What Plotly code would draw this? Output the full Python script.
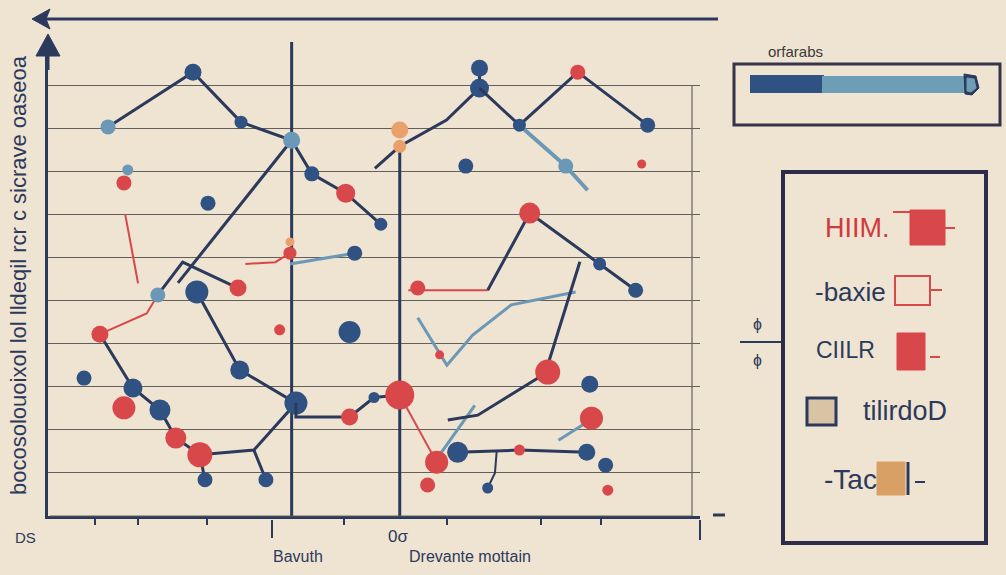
import plotly.graph_objects as go

W, H = 1006, 575
L, R, T, B = 48, 306, 42, 59
BG = '#efe3d1'
NAVY = '#2b3a5c'
BLUE = '#2f5282'
RED = '#d8474a'
STEEL = '#6c98b7'
ORANGE = '#eba06b'
GRID = '#625f5a'
COL = {'n': BLUE, 'r': RED, 's': STEEL, 'o': ORANGE, '-': BLUE}

# ---------------- data ----------------
x_range = [0, 15.2]
y_range = [0, 11]
grid_vals = [1, 2, 3, 4, 5, 6, 7, 8, 9, 10]
tick_vals = [1.1, 2.1, 3.7, 6.9, 9.3, 11.5, 12.9]
ref_x = [5.68, 8.20]
ref_top = [11.1, 8.55]

upper_x = [1.40, 3.38, 4.50, 5.68, 6.15, 6.94, 7.76]
upper_y = [9.03, 10.30, 9.14, 8.72, 7.94, 7.49, 6.77]
upper_c = ['s', 'n', 'n', 's', 'n', 'r', 'n']
upper_s = [15, 17, 13, 17, 15, 19, 13]

diag_x = [5.68, 3.03]
diag_y = [8.72, 5.41]

peak_x = [2.56, 3.14, 4.43]
peak_y = [5.13, 5.89, 5.29]
peak_c = ['s', '-', 'r']
peak_s = [15, 0, 17]

chain_x = [1.21, 1.98, 2.61, 2.98, 3.54, 4.80, 5.78, 4.47, 3.47]
chain_y = [4.22, 2.97, 2.46, 1.81, 1.42, 1.53, 2.62, 3.39, 5.20]
chain_c = ['r', 'n', 'n', 'r', 'r', '-', 'n', 'n', 'n']
chain_s = [17, 19, 21, 21, 25, 0, 23, 19, 23]

branch1_x = [4.80, 5.08]
branch1_y = [1.53, 0.84]
branch2_x = [3.54, 3.66]
branch2_y = [1.42, 0.84]

mid_x = [5.78, 5.78, 7.03, 7.60, 8.20]
mid_y = [2.62, 2.30, 2.30, 2.75, 2.81]
mid_c = ['-', '-', 'r', 'n', 'r']
mid_s = [0, 0, 17, 11, 29]

right1_x = [7.62, 8.20, 9.29, 10.06, 10.06]
right1_y = [8.07, 8.58, 9.19, 9.93, 10.39]
right1_c = ['-', '-', '-', 'n', 'n']
right1_s = [0, 0, 0, 19, 17]

right2_x = [10.06, 10.99, 12.35, 13.98]
right2_y = [9.93, 9.07, 10.30, 9.07]
right2_c = ['-', 'n', 'r', 'n']
right2_s = [0, 13, 15, 15]

right3_x = [10.99, 12.07, 12.58]
right3_y = [9.07, 8.12, 7.56]

wave_x = [10.25, 11.23, 12.86, 13.70]
wave_y = [5.24, 7.03, 5.85, 5.24]
wave_c = ['-', 'r', 'n', 'n']
wave_s = [0, 21, 13, 15]

drop_x = [12.40, 11.65]
drop_y = [5.90, 3.50]

curve_x = [8.62, 9.30, 9.90, 10.80, 12.30]
curve_y = [4.60, 3.50, 4.20, 4.90, 5.20]

low1_x = [9.32, 10.02, 11.65]
low1_y = [2.23, 2.34, 3.34]
low1_c = ['-', '-', 'r']
low1_s = [0, 0, 25]

low2_x = [9.55, 10.99, 12.56]
low2_y = [1.48, 1.53, 1.48]
low2_c = ['n', 'r', 'n']
low2_s = [21, 11, 17]

hook_x = [10.46, 10.42, 10.25]
hook_y = [1.50, 1.00, 0.65]

red_thin_paths = [
    ([1.21, 2.30, 2.56], [4.22, 4.70, 5.13]),
    ([1.80, 2.10], [7.00, 5.40]),
    ([4.60, 5.30, 5.64], [5.85, 5.89, 6.10]),
    ([8.40, 10.25], [5.24, 5.24]),
    ([8.20, 8.70, 9.06], [2.81, 1.90, 1.25]),
]
steel_thin_paths = [
    ([5.64, 7.15], [5.85, 6.10]),
    ([9.13, 9.95], [1.42, 2.57]),
    ([11.90, 12.60], [1.76, 2.20]),
]

dots_x = [3.73, 7.15, 7.03, 0.84, 9.74, 12.63, 13.00, 1.86,
          1.77, 5.64, 5.40, 1.77, 9.06, 8.85, 13.84, 12.67, 8.62, 9.13, 13.05,
          8.20, 8.20, 5.64]
dots_y = [7.26, 6.10, 4.27, 3.20, 8.12, 3.06, 1.18, 8.03,
          7.73, 6.10, 4.32, 2.51, 1.25, 0.72, 8.17, 2.27, 5.29, 3.74, 0.60,
          8.96, 8.58, 6.36]
dots_c = ['n', 'n', 'n', 'n', 'n', 'n', 'n', 's',
          'r', 'r', 'r', 'r', 'r', 'r', 'r', 'r', 'r', 'r', 'r',
          'o', 'o', 'o']
dots_s = [15, 15, 22, 15, 15, 17, 15, 11,
          15, 13, 11, 23, 23, 15, 9, 23, 15, 9, 11,
          17, 13, 9]

y_title = "bocosolouoixol lol lldeqil rcr c sicrave oaseoa"
x_labels = ["DS", "0σ", "Bavuth", "Drevante mottain"]
bar_title = "orfarabs"
legend_items = ["HIIM.", "-baxie", "CIILR", "tilirdoD", "-Tac"]

# ---------------- figure ----------------
fig = go.Figure()


def path(xs, ys, color=NAVY, width=3, cols=None, sizes=None):
    if cols is None:
        fig.add_trace(go.Scatter(x=xs, y=ys, mode='lines',
                                 line=dict(color=color, width=width),
                                 hoverinfo='skip', showlegend=False))
    else:
        fig.add_trace(go.Scatter(x=xs, y=ys, mode='lines+markers',
                                 line=dict(color=color, width=width),
                                 marker=dict(color=[COL[c] for c in cols], size=sizes,
                                             opacity=1, line=dict(width=0)),
                                 hoverinfo='skip', showlegend=False))


# reference verticals
for vx, vt in zip(ref_x, ref_top):
    path([vx, vx], [0, vt], NAVY, 3)

for xs, ys in red_thin_paths:
    path(xs, ys, RED, 2)
for xs, ys in steel_thin_paths:
    path(xs, ys, STEEL, 3)
path(curve_x, curve_y, STEEL, 3)
path(right3_x, right3_y, STEEL, 4, ['-', 's', '-'], [0, 15, 0])

path(diag_x, diag_y)
path(branch1_x, branch1_y, NAVY, 3, ['-', 'n'], [0, 15])
path(branch2_x, branch2_y, NAVY, 3, ['-', 'n'], [0, 15])
path(drop_x, drop_y)
path(hook_x, hook_y, NAVY, 2, ['-', '-', 'n'], [0, 0, 11])
path(peak_x, peak_y, NAVY, 3, peak_c, peak_s)
path(upper_x, upper_y, NAVY, 3, upper_c, upper_s)
path(chain_x, chain_y, NAVY, 3, chain_c, chain_s)
path(mid_x, mid_y, NAVY, 3, mid_c, mid_s)
path(right1_x, right1_y, NAVY, 3, right1_c, right1_s)
path(right2_x, right2_y, NAVY, 3, right2_c, right2_s)
path(wave_x, wave_y, NAVY, 3, wave_c, wave_s)
path(low1_x, low1_y, NAVY, 3, low1_c, low1_s)
path(low2_x, low2_y, NAVY, 3, low2_c, low2_s)

fig.add_trace(go.Scatter(x=dots_x, y=dots_y, mode='markers',
                         marker=dict(color=[COL[c] for c in dots_c], size=dots_s,
                                     opacity=1, line=dict(width=0)),
                         hoverinfo='skip', showlegend=False))

# ---------------- decorations (pixel helper) ----------------
PW, PH = W - L - R, H - T - B


def px(x):
    return (x - L) / PW


def py(y):
    return (H - B - y) / PH


shapes = []


def rect(x0, y0, x1, y1, line, fill='rgba(0,0,0,0)', w=3):
    shapes.append(dict(type='rect', xref='paper', yref='paper',
                       x0=px(x0), x1=px(x1), y0=py(y1), y1=py(y0),
                       line=dict(color=line, width=w), fillcolor=fill, layer='above'))


def seg(x0, y0, x1, y1, color=NAVY, w=3):
    shapes.append(dict(type='line', xref='paper', yref='paper',
                       x0=px(x0), x1=px(x1), y0=py(y0), y1=py(y1),
                       line=dict(color=color, width=w), layer='above'))


def poly(pts, fill):
    d = 'M ' + ' L '.join(f'{px(a):.5f},{py(b):.5f}' for a, b in pts) + ' Z'
    shapes.append(dict(type='path', xref='paper', yref='paper', path=d,
                       fillcolor=fill, line=dict(color=fill, width=1), layer='above'))


# inner frame right side and bottom
seg(692, 85, 692, 516, GRID, 1.2)
seg(50, 516, 692, 516, GRID, 1.2)
# top arrow line
seg(46, 19, 718, 19, NAVY, 3)
poly([(32, 19), (50, 9), (46, 19), (50, 29)], NAVY)
# y axis arrow head
poly([(48, 34), (36, 56), (60, 56)], NAVY)
seg(48, 52, 48, 70, NAVY, 3)
# long ticks
seg(272, 520, 272, 538, NAVY, 2)
seg(700, 520, 700, 540, NAVY, 2)
# small bracket on left of legend
seg(740, 342, 783, 342, NAVY, 2)
seg(713, 515, 725, 515, NAVY, 3)

# colour bar box
rect(734, 64, 1000, 125, '#34344a', w=3)
rect(750, 75, 824, 93, BLUE, BLUE, w=0)
rect(822, 76, 966, 93, '#6e9db6', '#6e9db6', w=0)
poly([(964, 74), (976, 76), (979, 88), (972, 95), (965, 94)], NAVY)
poly([(967, 78), (974, 79), (976, 88), (971, 92), (967, 91)], '#6e9db6')

# legend box
rect(783, 172, 986, 543, '#2d2d4a', w=4)
rect(910, 210, 945, 245, RED, RED, w=1)
seg(893, 212, 910, 212, RED, 2)
seg(945, 228, 955, 228, RED, 2)
rect(895, 276, 930, 305, RED, '#f1e2d0', w=2)
seg(930, 290, 942, 290, RED, 2)
rect(897, 333, 925, 370, RED, RED, w=1)
seg(930, 357, 940, 357, RED, 2)
rect(807, 398, 836, 425, NAVY, '#d9c3a5', w=3)
rect(877, 462, 905, 495, '#d9a066', '#d9a066', w=1)
seg(908, 462, 908, 495, NAVY, 3)
seg(915, 482, 925, 482, NAVY, 2)

ann = []
FONT = 'Liberation Sans Narrow, Liberation Sans, Arial, sans-serif'


def text(t, x, y, size, color=NAVY, angle=0):
    ann.append(dict(text=t, x=px(x), y=py(y), xref='paper', yref='paper',
                    showarrow=False, font=dict(family=FONT, size=size, color=color),
                    textangle=angle, xanchor='center', yanchor='middle'))


text(y_title, 18, 275, 22, NAVY, -90)
text(x_labels[0], 25, 537, 15, NAVY)
text(x_labels[1], 398, 536, 17, NAVY)
text(x_labels[2], 298, 556, 16, NAVY)
text(x_labels[3], 470, 556, 16, NAVY)
text(bar_title, 795, 52, 15, '#3a3a3a')
text(legend_items[0], 857, 228, 27, '#cf3a3d')
text(legend_items[1], 850, 292, 26, NAVY)
text(legend_items[2], 845, 350, 23, NAVY)
text(legend_items[3], 905, 411, 27, NAVY)
text(legend_items[4], 850, 479, 28, NAVY)
text('ɸ', 757, 325, 16, NAVY)
text('ɸ', 757, 360, 16, NAVY)

fig.update_layout(
    width=W, height=H,
    margin=dict(l=L, r=R, t=T, b=B, pad=0),
    paper_bgcolor=BG, plot_bgcolor=BG,
    xaxis=dict(range=x_range, showgrid=False, zeroline=False,
               showline=True, linecolor=NAVY, linewidth=3,
               tickmode='array', tickvals=tick_vals, ticktext=['' for _ in tick_vals],
               ticks='outside', ticklen=6, tickwidth=2, tickcolor=NAVY),
    yaxis=dict(range=y_range, showgrid=True, gridcolor=GRID, gridwidth=1.2,
               zeroline=False, showline=True, linecolor=NAVY, linewidth=3,
               tickmode='array', tickvals=grid_vals, showticklabels=False),
    shapes=shapes, annotations=ann, showlegend=False,
)

fig.write_html("out.html", config={'displayModeBar': False},
               post_script="document.body.style.margin='0';document.body.style.padding='0';"
                           "document.body.style.background='" + BG + "';")
